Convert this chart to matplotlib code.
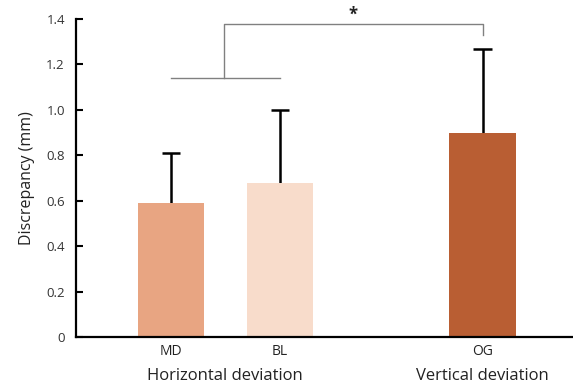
import numpy as np
import matplotlib
matplotlib.use("Agg")
import matplotlib.pyplot as plt

plt.rcParams['font.family'] = ['Open Sans', 'DejaVu Sans']

# data
labels = ['MD', 'BL', 'OG']
means = [0.59, 0.68, 0.90]
sds = [0.22, 0.32, 0.37]
colors = ['#E8A582', '#F8DCCB', '#B95E33']
pos = [0, 1, 2.86]
groups = ['Horizontal deviation', 'Vertical deviation']
group_pos = [0.5, 2.86]
yticks = [0, 0.2, 0.4, 0.6, 0.8, 1.0, 1.2, 1.4]
ytick_labels = ['0', '0.2', '0.4', '0.6', '0.8', '1.0', '1.2', '1.4']

fig = plt.figure(figsize=(5.73, 3.88), dpi=100)
ax = fig.add_axes([0.1326, 0.1314, 0.8674, 0.8196])

ax.bar(pos, means, width=0.61, color=colors, zorder=2)
# upper error bars only (one cap)
pos_a = np.array(pos)
tops = np.array(means) + np.array(sds)
ax.vlines(pos_a, means, tops, color='black', lw=1.8, zorder=1)
ax.hlines(tops, pos_a - 0.085, pos_a + 0.085, color='black', lw=1.8, zorder=1)

ax.set_xlim(-0.87, 3.69)
ax.set_ylim(0, 1.4)
ax.set_yticks(yticks)
ax.set_yticklabels(ytick_labels, fontsize=9.5, color='#333333')
ax.set_xticks(pos)
ax.set_xticklabels(labels, fontsize=10, color='#222222')
ax.tick_params(axis='y', direction='in', length=5, width=1.5, pad=8)
ax.tick_params(axis='x', length=0, pad=5)
for s in ['top', 'right']:
    ax.spines[s].set_visible(False)
for s in ['left', 'bottom']:
    ax.spines[s].set_linewidth(1.6)

ax.set_ylabel('Discrepancy (mm)', fontsize=11.5, color='#222222', labelpad=8)

for g, gp in zip(groups, group_pos):
    ax.text(gp, -0.123, g, ha='center', va='center', fontsize=12,
            color='#222222', transform=ax.get_xaxis_transform(), clip_on=False)

# significance bracket
gray = '#808080'
ax.plot([pos[0], pos[1]], [1.14, 1.14], color=gray, lw=1)
mid = 0.49
ax.plot([mid, mid, pos[2], pos[2]], [1.14, 1.38, 1.38, 1.33], color=gray, lw=1)
ax.text((mid + pos[2]) / 2 + 0.0, 1.42, '*', ha='center', va='center',
        fontsize=12, fontweight='bold', color='#222222', clip_on=False)

fig.savefig('out.png', dpi=100)
